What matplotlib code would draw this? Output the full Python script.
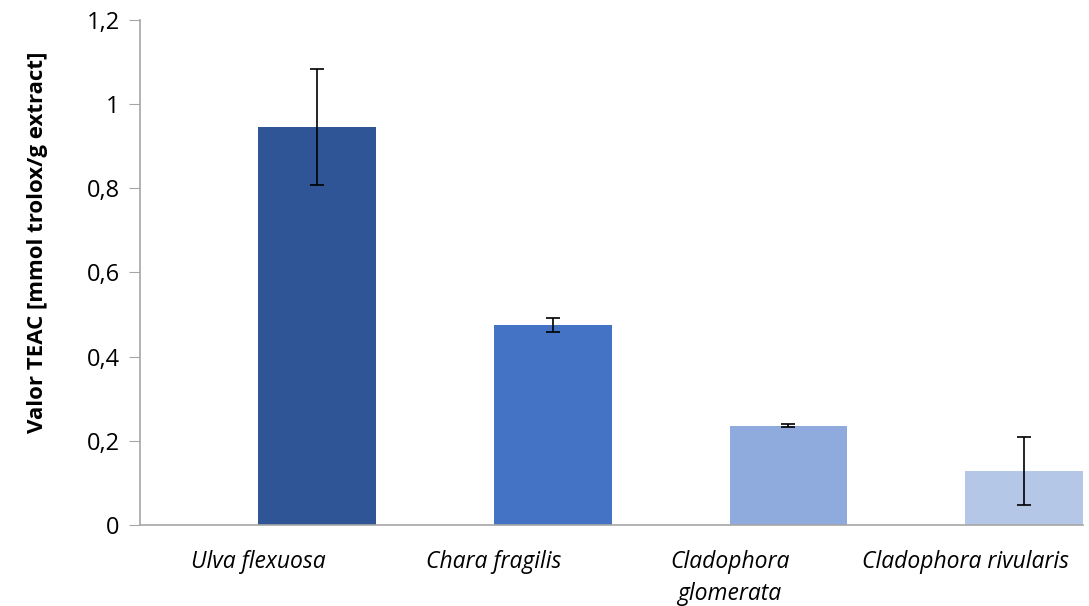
import matplotlib.pyplot as plt
from matplotlib.ticker import FuncFormatter

species = ["Ulva flexuosa", "Chara fragilis", "Cladophora\nglomerata", "Cladophora rivularis"]
teac = [0.946, 0.476, 0.236, 0.129]
teac_err = [0.137, 0.017, 0.003, 0.081]
colors = ["#2F5597", "#4472C4", "#8FAADC", "#B4C7E7"]

plt.rcParams['font.family'] = ['Open Sans', 'DejaVu Sans']

fig = plt.figure(figsize=(10.89, 6.06), dpi=100)
ax = fig.add_axes([0.129, 0.1337, 0.8655, 0.8333])

x = list(range(len(species)))
# bars sit in the right half of each category slot
xb = [i + 0.25 for i in x]
ax.bar(xb, teac, width=0.5, color=colors, zorder=2)
ax.errorbar(xb, teac, yerr=teac_err, fmt='none', ecolor='black',
            elinewidth=1.2, capsize=5, capthick=1.2, zorder=3)

ax.set_xlim(-0.5, 3.5)
ax.set_ylim(0, 1.2)
ax.set_yticks([0, 0.2, 0.4, 0.6, 0.8, 1.0, 1.2])
ax.yaxis.set_major_formatter(FuncFormatter(lambda v, p: ('%g' % round(v, 1)).replace('.', ',')))
ax.set_xticks(x)
ax.set_xticklabels(species, fontstyle='italic', fontsize=16.5, linespacing=1.45)
ax.tick_params(axis='x', length=0, pad=18)
ax.tick_params(axis='y', labelsize=17, length=8, color='#A6A6A6', pad=7)

for side in ['top', 'right']:
    ax.spines[side].set_visible(False)
for side in ['left', 'bottom']:
    ax.spines[side].set_color('#A6A6A6')
    ax.spines[side].set_linewidth(1.2)

ax.set_ylabel("Valor TEAC [mmol trolox/g extract]", fontsize=16, fontweight='bold')
ax.yaxis.set_label_coords(-0.098, 0.56)

fig.savefig("out.png", dpi=100)
